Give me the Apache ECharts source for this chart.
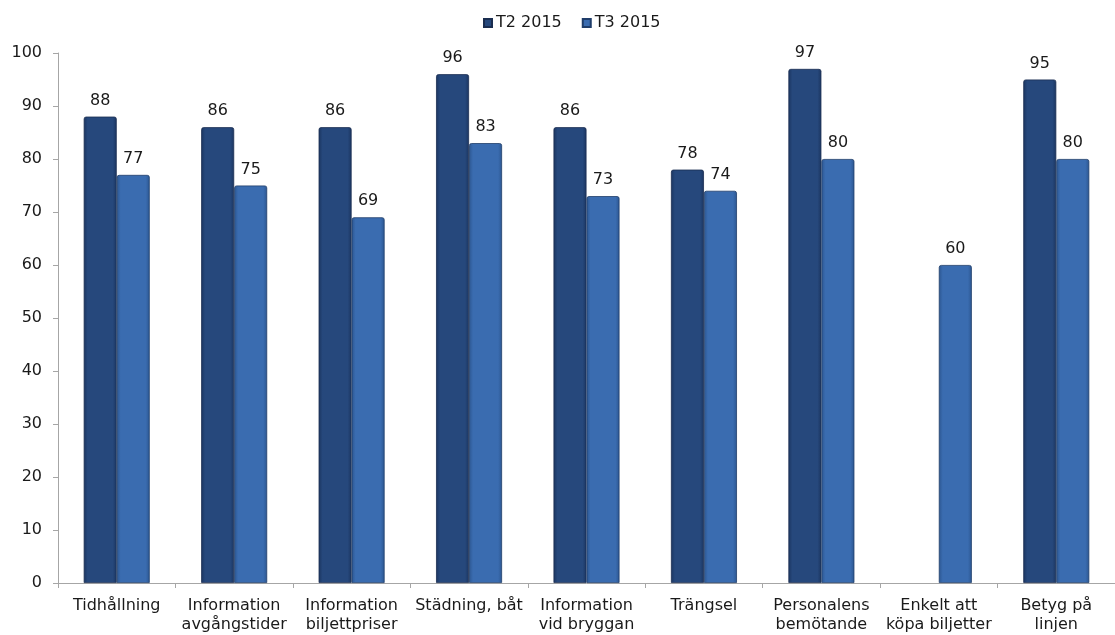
<!DOCTYPE html>
<html>
<head>
<meta charset="utf-8">
<script src="https://cdn.jsdelivr.net/npm/echarts@6/dist/echarts.min.js"></script>
<style>
html,body{margin:0;padding:0;background:#fff;}
#chart{width:1115px;height:635px;}
</style>
</head>
<body>
<div id="chart"></div>
<script>
const categories = ["Tidhållning", "Information\navgångstider", "Information\nbiljettpriser", "Städning, båt", "Information\nvid bryggan", "Trängsel", "Personalens\nbemötande", "Enkelt att\nköpa biljetter", "Betyg på\nlinjen"];
const seriesNames = ["T2 2015", "T3 2015"];
const t2 = [88, 86, 86, 96, 86, 78, 97, null, 95];
const t3 = [77, 75, 69, 83, 73, 74, 80, 60, 80];
const yTicks = {min: 0, max: 100, interval: 10};

const font = "'DejaVu Sans', Verdana, sans-serif";
const fs = 16;
function grad(edge, mid) {
  return new echarts.graphic.LinearGradient(0, 0, 1, 0, [
    {offset: 0, color: edge},
    {offset: 0.12, color: mid},
    {offset: 0.88, color: mid},
    {offset: 1, color: edge}
  ]);
}
const chart = echarts.init(document.getElementById('chart'), null, {renderer: 'canvas'});
const labelCfg = {show: true, position: 'top', distance: 8, color: '#1a1a1a', fontFamily: font, fontSize: fs};
chart.setOption({
  animation: false,
  backgroundColor: '#fff',
  legend: {
    top: 10, left: 478,
    itemWidth: 8, itemHeight: 8, itemGap: 20,
    icon: 'rect',
    textStyle: {fontFamily: font, fontSize: fs, color: '#1a1a1a', padding: [0, 0, 0, -1]},
    data: seriesNames
  },
  grid: {left: 58, right: -5, top: 53, bottom: 52, containLabel: false},
  xAxis: {
    type: 'category',
    data: categories,
    axisLine: {lineStyle: {color: '#a6a6a6', width: 1}},
    axisTick: {show: true, length: 5, lineStyle: {color: '#a6a6a6'}},
    axisLabel: {fontFamily: font, fontSize: fs, color: '#1a1a1a', margin: 13, lineHeight: 19, interval: 0}
  },
  yAxis: {
    type: 'value',
    min: yTicks.min, max: yTicks.max, interval: yTicks.interval,
    splitLine: {show: false},
    axisLine: {show: true, lineStyle: {color: '#a6a6a6', width: 1}},
    axisTick: {show: true, length: 5, lineStyle: {color: '#a6a6a6'}},
    axisLabel: {fontFamily: font, fontSize: fs, color: '#1a1a1a', margin: 16}
  },
  series: [
    {
      name: seriesNames[0], type: 'bar', data: t2,
      barWidth: 33, barGap: '0%',
      itemStyle: {color: grad('#1b3560', '#26487c'), borderColor: '#1a2d50', borderWidth: 0.8, borderRadius: [2, 2, 0, 0]},
      label: labelCfg
    },
    {
      name: seriesNames[1], type: 'bar', data: t3,
      barWidth: 33,
      itemStyle: {color: grad('#2c5690', '#3a6cb0'), borderColor: '#1f3d6a', borderWidth: 0.8, borderRadius: [2, 2, 0, 0]},
      label: labelCfg
    }
  ]
});
</script>
</body>
</html>
